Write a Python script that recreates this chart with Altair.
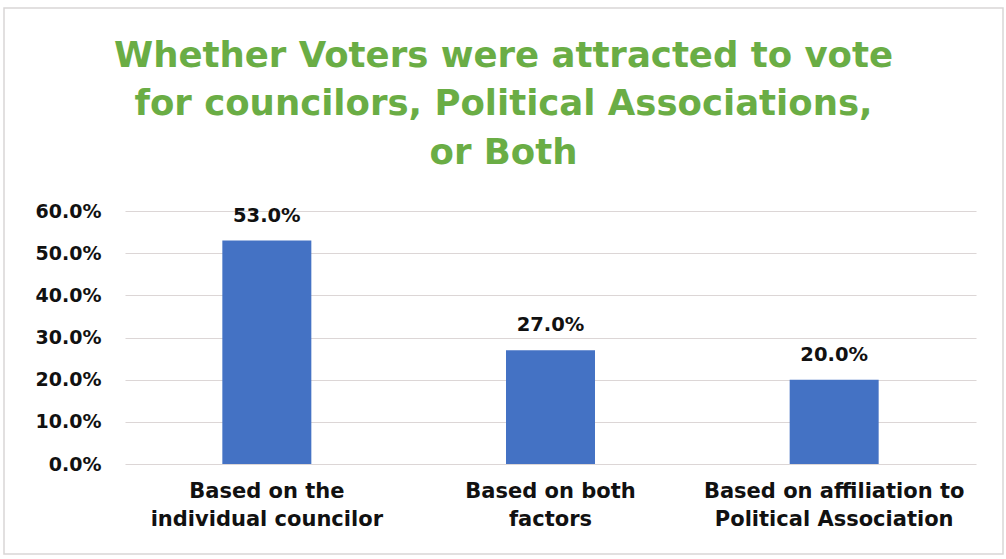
import altair as alt
import pandas as pd

categories = ["Based on the|individual councilor", "Based on both|factors", "Based on affiliation to|Political Association"]
values = [0.53, 0.27, 0.20]
y_ticks = [0.0, 0.1, 0.2, 0.3, 0.4, 0.5, 0.6]

df = pd.DataFrame({"category": categories, "value": values})

FONT = "DejaVu Sans"

base = alt.Chart(df).encode(
    x=alt.X("category:N", sort=None, title=None,
            scale=alt.Scale(paddingInner=0.0, paddingOuter=0.0),
            axis=alt.Axis(labelExpr="split(datum.label, '|')", labelAngle=0,
                          labelFontSize=21, labelColor="#111111", labelFont=FONT,
                          labelFontWeight="bold", labelLineHeight=28, labelPadding=16,
                          labelLimit=0, ticks=False, domain=False)),
)

bars = base.mark_bar(color="#4472C4", size=89).encode(
    y=alt.Y("value:Q", title=None,
            scale=alt.Scale(domain=[0, 0.6]),
            axis=alt.Axis(values=y_ticks, format=".1%", labelFontSize=19,
                          labelFont=FONT, labelFontWeight="bold", labelColor="#111111",
                          ticks=False, domain=False, labelPadding=24,
                          gridColor="#dcd6d6", gridWidth=1.2))
)

labels = base.mark_text(dy=-19, baseline="alphabetic", fontSize=19.5, font=FONT,
                        fontWeight="bold", color="#111111").encode(
    y=alt.Y("value:Q"),
    text=alt.Text("value:Q", format=".1%"),
)

frame = alt.Chart(pd.DataFrame({"f": [0]})).mark_rect(
    filled=False, stroke="#d9d6d6", strokeWidth=1.5
).encode(
    x=alt.value(-121), x2=alt.value(878), y=alt.value(-203), y2=alt.value(343)
)

chart = alt.layer(frame, bars, labels).properties(
    width=851, height=253,
    title=alt.TitleParams(
        text=["Whether Voters were attracted to vote",
              "for councilors, Political Associations,",
              "or Both"],
        fontSize=35.5, font=FONT, fontWeight="bold", color="#6AAD45",
        lineHeight=48.5, anchor="middle", frame="group", dx=-47, dy=192, offset=28),
    autosize=alt.AutoSizeParams(type="none"),
    padding={"left": 125, "top": 211, "right": 30, "bottom": 95},
    background="white",
).configure_view(stroke=None)

chart.save("out.html", embed_options={"renderer": "svg", "actions": False})
